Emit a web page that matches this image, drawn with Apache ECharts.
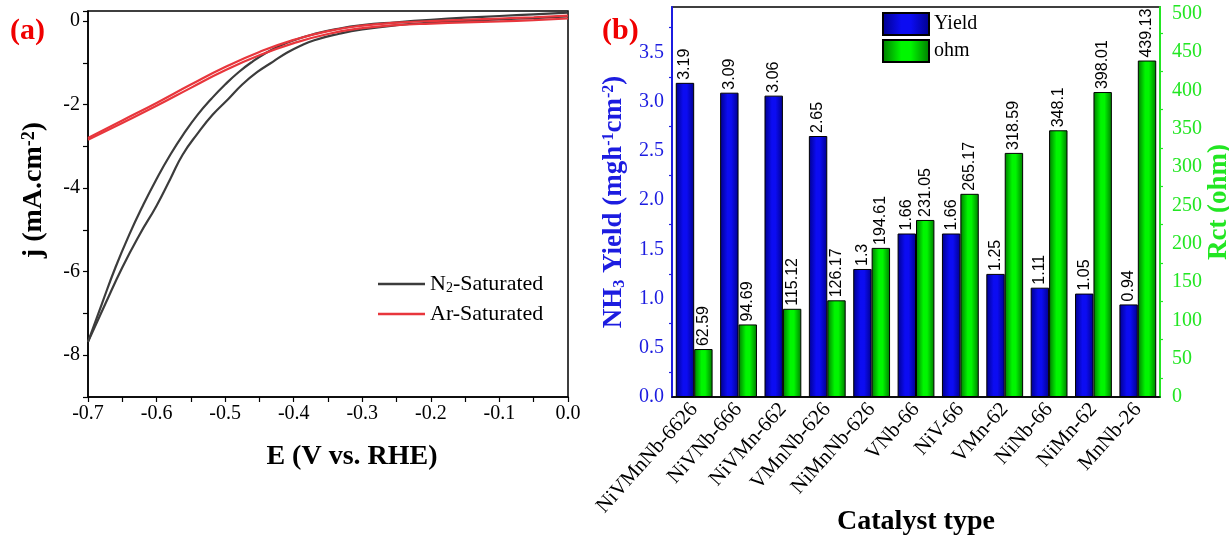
<!DOCTYPE html>
<html>
<head>
<meta charset="utf-8">
<script src="https://cdn.jsdelivr.net/npm/echarts@6/dist/echarts.min.js"></script>
<style>
html, body { margin: 0; padding: 0; background: #fff; }
#chart { width: 1229px; height: 544px; }
</style>
</head>
<body>
<div id="chart"></div>
<script>
// (a) LSV loops, points are [E (V vs. RHE), j (mA/cm2)]
const n2Outer = [
    [0, 0.20], [-0.05, 0.16], [-0.10, 0.12], [-0.15, 0.08], [-0.20, 0.03],
    [-0.25, -0.03], [-0.30, -0.10], [-0.34, -0.20], [-0.37, -0.31],
    [-0.40, -0.46], [-0.42, -0.59], [-0.44, -0.76], [-0.46, -0.97],
    [-0.48, -1.22], [-0.50, -1.52], [-0.52, -1.86], [-0.54, -2.24],
    [-0.56, -2.69], [-0.58, -3.20], [-0.60, -3.78], [-0.62, -4.42],
    [-0.64, -5.12], [-0.66, -5.90], [-0.68, -6.78], [-0.70, -7.68]
];
const n2Inner = [
    [-0.70, -7.68], [-0.675, -6.78], [-0.65, -5.90], [-0.625, -5.12],
    [-0.60, -4.42], [-0.58, -3.78], [-0.562, -3.20], [-0.54, -2.69],
    [-0.518, -2.24], [-0.495, -1.86], [-0.475, -1.52], [-0.453, -1.22],
    [-0.43, -0.97], [-0.41, -0.76], [-0.39, -0.59], [-0.37, -0.46],
    [-0.335, -0.31], [-0.30, -0.20], [-0.25, -0.10], [-0.20, -0.04],
    [-0.15, 0.00], [-0.10, 0.04], [-0.05, 0.07], [0, 0.11]
];
const arUpper = [
    [-0.70, -2.80], [-0.65, -2.38], [-0.60, -1.96], [-0.55, -1.52],
    [-0.50, -1.10], [-0.45, -0.74], [-0.40, -0.45], [-0.35, -0.24],
    [-0.30, -0.11], [-0.25, -0.04], [-0.20, 0.00], [-0.15, 0.03],
    [-0.10, 0.06], [-0.05, 0.09], [0, 0.13]
];
const arLower = [
    [0, 0.06], [-0.05, 0.02], [-0.10, -0.01], [-0.15, -0.03], [-0.20, -0.06],
    [-0.25, -0.10], [-0.30, -0.17], [-0.35, -0.31], [-0.40, -0.53],
    [-0.45, -0.82], [-0.50, -1.18], [-0.55, -1.60], [-0.60, -2.03],
    [-0.65, -2.44], [-0.70, -2.84]
];

// (b) catalysts
const catalysts = ['NiVMnNb-6626', 'NiVNb-666', 'NiVMn-662', 'VMnNb-626', 'NiMnNb-626',
    'VNb-66', 'NiV-66', 'VMn-62', 'NiNb-66', 'NiMn-62', 'MnNb-26'];
const yieldVals = [3.19, 3.09, 3.06, 2.65, 1.3, 1.66, 1.66, 1.25, 1.11, 1.05, 0.94];
const ohmVals = [62.59, 94.69, 115.12, 126.17, 194.61, 231.05, 265.17, 318.59, 348.1, 398.01, 439.13];

const serif = '"Liberation Serif", "Times New Roman", serif';
const sans = '"Liberation Sans", Arial, sans-serif';
const colorN2 = '#3c3c3c';
const colorAr = '#e8363c';
const colorBlue = '#1c1ce0';
const colorGreen = '#22e622';

function barGradient(edge, mid) {
    return new echarts.graphic.LinearGradient(0, 0, 1, 0, [
        { offset: 0, color: edge },
        { offset: 0.4, color: mid },
        { offset: 0.6, color: mid },
        { offset: 1, color: edge }
    ]);
}

function lineSeries(name, data, color) {
    return {
        name: name,
        type: 'line',
        xAxisIndex: 0,
        yAxisIndex: 0,
        data: data,
        smooth: 0.5,
        symbol: 'none',
        lineStyle: { color: color, width: 2.2 },
        itemStyle: { color: color }
    };
}

const chart = echarts.init(document.getElementById('chart'));

const tickLabel = { fontFamily: serif, fontSize: 20, color: '#000' };

chart.setOption({
    animation: false,
    title: [
        { text: '(a)', left: 5, top: 11, textStyle: { fontFamily: serif, fontSize: 30, fontWeight: 'bold', color: '#f00000' } },
        { text: '(b)', left: 597, top: 11, textStyle: { fontFamily: serif, fontSize: 30, fontWeight: 'bold', color: '#f00000' } }
    ],
    legend: [
        {
            data: ['N2-Saturated', 'Ar-Saturated'],
            orient: 'vertical',
            left: 373,
            top: 268,
            icon: 'rect',
            itemWidth: 47,
            itemHeight: 2.5,
            itemGap: 8,
            formatter: name => name === 'N2-Saturated' ? 'N{sub|2}-Saturated' : name,
            textStyle: {
                fontFamily: serif, fontSize: 22, color: '#000',
                rich: { sub: { fontFamily: serif, fontSize: 14, verticalAlign: 'bottom', padding: [8, 0, 0, 0] } }
            }
        },
        {
            data: ['Yield', 'ohm'],
            orient: 'vertical',
            left: 877,
            top: 7,
            icon: 'rect',
            itemWidth: 46,
            itemHeight: 22,
            itemGap: 3,
            textStyle: { fontFamily: serif, fontSize: 20, color: '#000' }
        }
    ],
    grid: [
        { left: 88, top: 11, width: 480, height: 386, outerBoundsMode: 'none', show: true, borderColor: '#000', borderWidth: 1.5 },
        { left: 672, top: 7, width: 488, height: 390, outerBoundsMode: 'none', show: true, borderColor: '#000', borderWidth: 1.5 }
    ],
    xAxis: [
        {
            gridIndex: 0,
            type: 'value',
            min: -0.7,
            max: 0,
            interval: 0.05,
            name: 'E (V vs. RHE)',
            nameLocation: 'middle',
            nameGap: 46,
            nameTextStyle: { fontFamily: serif, fontSize: 28, fontWeight: 'bold', color: '#000', padding: [0, 0, 0, 48] },
            axisLine: { onZero: false, lineStyle: { color: '#000', width: 1.5 } },
            axisTick: { length: 5, lineStyle: { color: '#000', width: 1.2 } },
            axisLabel: Object.assign({
                margin: 7,
                formatter: v => {
                    const k = Math.round(v * 100);
                    return k % 10 === 0 ? (k / 100).toFixed(1) : '';
                }
            }, tickLabel),
            splitLine: { show: false }
        },
        {
            gridIndex: 1,
            type: 'category',
            data: catalysts,
            name: 'Catalyst type',
            nameLocation: 'middle',
            nameGap: 111,
            nameMoveOverlap: false,
            nameTextStyle: { fontFamily: serif, fontSize: 28, fontWeight: 'bold', color: '#000' },
            axisLine: { onZero: false, lineStyle: { color: '#000', width: 1.5 } },
            axisTick: { alignWithLabel: true, length: 6, lineStyle: { color: '#000', width: 1.2 } },
            axisLabel: { rotate: 48, margin: 9, fontFamily: serif, fontSize: 21, color: '#000', interval: 0 }
        },
        {
            // short ticks between catalysts
            gridIndex: 1,
            type: 'category',
            data: catalysts,
            position: 'bottom',
            axisLine: { show: false, onZero: false },
            axisTick: { length: 3, lineStyle: { color: '#000', width: 1.2 } },
            axisLabel: { show: false }
        }
    ],
    yAxis: [
        {
            gridIndex: 0,
            type: 'value',
            min: -9,
            max: 0.24,
            interval: 1,
            name: 'j (mA.cm{sup|-2})',
            nameLocation: 'middle',
            nameRotate: 90,
            nameGap: 40,
            nameTextStyle: {
                fontFamily: serif, fontSize: 28, fontWeight: 'bold', color: '#000', padding: [0, 0, 0, 28],
                rich: { sup: { fontFamily: serif, fontSize: 18, fontWeight: 'bold', verticalAlign: 'top' } }
            },
            axisLine: { show: true, onZero: false, lineStyle: { color: '#000', width: 1.5 } },
            axisTick: { length: 5, lineStyle: { color: '#000', width: 1.2 } },
            axisLabel: Object.assign({
                margin: 8,
                formatter: v => (Math.round(v) === v && v % 2 === 0) ? String(v) : ''
            }, tickLabel),
            splitLine: { show: false }
        },
        {
            gridIndex: 1,
            type: 'value',
            min: 0,
            max: 3.96,
            interval: 0.5,
            position: 'left',
            name: 'NH{sub|3} Yield (mgh{sup|-1}cm{sup|-2})',
            nameLocation: 'middle',
            nameRotate: 90,
            nameGap: 44,
            nameTextStyle: {
                fontFamily: serif, fontSize: 27, fontWeight: 'bold', color: colorBlue,
                rich: {
                    sup: { fontFamily: serif, fontSize: 16, fontWeight: 'bold', color: colorBlue, verticalAlign: 'top' },
                    sub: { fontFamily: serif, fontSize: 16, fontWeight: 'bold', color: colorBlue, verticalAlign: 'bottom' }
                }
            },
            axisLine: { show: true, onZero: false, lineStyle: { color: colorBlue, width: 2 } },
            axisTick: { length: 6, lineStyle: { color: colorBlue, width: 1.2 } },
            minorTick: { show: true, splitNumber: 2, length: 3, lineStyle: { color: colorBlue, width: 1.2 } },
            axisLabel: {
                margin: 8, fontFamily: serif, fontSize: 20, color: colorBlue,
                formatter: v => Math.abs(v * 2 - Math.round(v * 2)) < 1e-6 ? v.toFixed(1) : ''
            },
            splitLine: { show: false }
        },
        {
            gridIndex: 1,
            type: 'value',
            min: 0,
            max: 509,
            interval: 50,
            position: 'right',
            name: 'Rct (ohm)',
            nameLocation: 'middle',
            nameRotate: 90,
            nameGap: 37,
            nameTextStyle: { fontFamily: serif, fontSize: 27, fontWeight: 'bold', color: colorGreen },
            axisLine: { show: true, onZero: false, lineStyle: { color: colorGreen, width: 2 } },
            axisTick: { length: 6, lineStyle: { color: colorGreen, width: 1.2 } },
            minorTick: { show: true, splitNumber: 2, length: 3, lineStyle: { color: colorGreen, width: 1.2 } },
            axisLabel: {
                margin: 12, fontFamily: serif, fontSize: 20, color: colorGreen,
                formatter: v => v % 50 === 0 ? String(v) : ''
            },
            splitLine: { show: false }
        }
    ],
    series: [
        lineSeries('N2-Saturated', n2Outer, colorN2),
        lineSeries('N2-Saturated', n2Inner, colorN2),
        lineSeries('Ar-Saturated', arUpper, colorAr),
        lineSeries('Ar-Saturated', arLower, colorAr),
        {
            name: 'Yield',
            type: 'bar',
            xAxisIndex: 1,
            yAxisIndex: 1,
            data: yieldVals,
            barWidth: '41.5%',
            barGap: '0%',
            itemStyle: { color: barGradient('#00008c', '#0c0cf2'), borderColor: '#000', borderWidth: 1 },
            label: {
                show: true, position: 'top', rotate: 90, align: 'left', verticalAlign: 'middle',
                distance: 3, fontFamily: sans, fontSize: 16, color: '#000'
            }
        },
        {
            name: 'ohm',
            type: 'bar',
            xAxisIndex: 1,
            yAxisIndex: 2,
            data: ohmVals,
            barWidth: '41.5%',
            barGap: '0%',
            itemStyle: { color: barGradient('#007a00', '#00f600'), borderColor: '#000', borderWidth: 1 },
            label: {
                show: true, position: 'top', rotate: 90, align: 'left', verticalAlign: 'middle',
                distance: 3, fontFamily: sans, fontSize: 16, color: '#000'
            }
        }
    ]
});
</script>
</body>
</html>
